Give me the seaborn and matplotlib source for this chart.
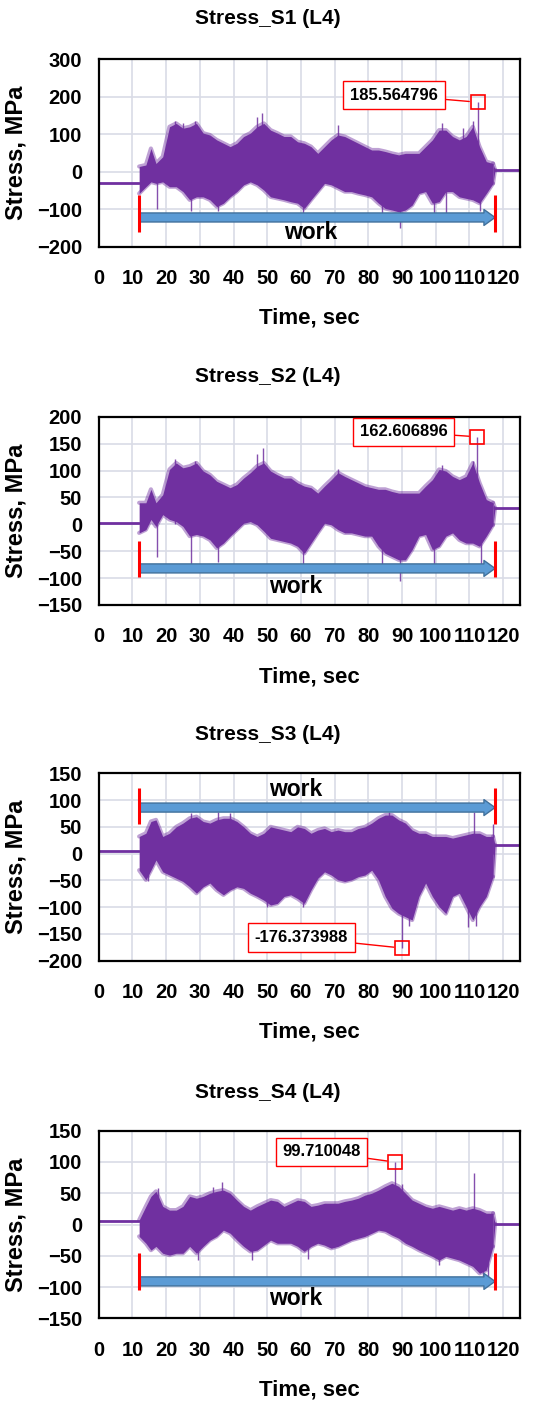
import numpy as np
import matplotlib.pyplot as plt
import seaborn as sns

# time grid for the working part (sec)
t_work = [12, 14, 15.5, 17, 19, 21, 23, 25, 27, 29, 31, 33, 35, 37, 39, 41, 43, 45, 47, 49,
          51, 53, 55, 57, 59, 61, 63, 65, 67, 69, 71, 73, 75, 77, 79, 81, 83, 85, 87, 89,
          91, 93, 95, 97, 99, 101, 103, 105, 107, 109, 111, 113, 115, 117]
t_start, t_end, t_max = 12, 117.6, 125

# --- S1 ---
s1_upper = [14, 18, 62, 22, 40, 120, 129, 116, 120, 129, 103, 98, 85, 76, 67, 76, 94, 103, 120, 129,
            111, 103, 94, 94, 80, 76, 67, 49, 67, 85, 98, 94, 85, 76, 67, 58, 58, 54, 49, 45,
            49, 49, 49, 67, 85, 111, 111, 94, 85, 94, 120, 67, 27, 22]
s1_lower = [-58, -40, -27, -31, -27, -40, -40, -53, -75, -67, -67, -75, -93, -84, -67, -53, -35, -27, -35, -49,
            -67, -71, -75, -80, -84, -98, -75, -53, -31, -35, -44, -53, -53, -58, -62, -67, -84, -98, -102, -107,
            -102, -89, -58, -53, -84, -80, -53, -53, -67, -71, -75, -84, -58, -31]
s1_base = (-30, 5)
s1_spike_t = [17.2, 22.5, 25, 27.5, 28.5, 35.5, 47, 48.5, 60.5, 71, 84, 89.5, 99.5, 102, 103, 108, 111, 112.4, 113]
s1_spike_v = [-100, 135, 130, -105, 135, -105, 145, 158, -110, 125, -110, -150, -110, 130, -110, 118, 135, 185.564796, -105]

# --- S2 ---
s2_upper = [40, 40, 65, 40, 55, 102, 114, 105, 108, 114, 99, 92, 80, 74, 68, 74, 86, 96, 108, 114,
            99, 92, 86, 86, 77, 71, 68, 58, 71, 83, 96, 89, 83, 77, 71, 68, 65, 65, 61, 58,
            58, 58, 58, 71, 83, 102, 99, 89, 83, 89, 114, 77, 46, 40]
s2_lower = [-16, -10, 9, -4, 18, 9, 5, -4, -22, -19, -22, -29, -44, -35, -22, -10, 2, 5, -1, -13,
            -26, -29, -32, -35, -41, -54, -35, -16, 2, -1, -10, -16, -16, -19, -22, -22, -41, -54, -60, -66,
            -66, -47, -22, -19, -47, -41, -22, -16, -29, -35, -35, -41, -22, -1]
s2_base = (2, 30)
s2_spike_t = [17.2, 22.5, 27.5, 28.5, 35.5, 47, 48.8, 60.5, 71, 84, 89.5, 99.5, 102, 111, 112.3, 113.5]
s2_spike_v = [-60, 122, -75, 118, -70, 130, 142, -75, 102, -75, -105, -75, 110, 117, 162.606896, -80]

# --- S3 ---
s3_upper = [32, 38, 60, 63, 32, 38, 50, 57, 66, 69, 60, 57, 63, 66, 66, 60, 50, 38, 32, 38,
            50, 47, 44, 41, 50, 47, 38, 44, 47, 41, 44, 41, 41, 47, 50, 57, 66, 72, 72, 63,
            57, 44, 38, 38, 32, 32, 32, 29, 32, 35, 38, 38, 32, 32]
s3_lower = [-31, -49, -31, -12, -34, -40, -46, -52, -62, -74, -62, -55, -68, -77, -68, -62, -65, -74, -80, -87,
            -96, -93, -80, -77, -84, -93, -68, -46, -34, -40, -49, -52, -49, -43, -40, -31, -49, -80, -102, -112,
            -118, -124, -80, -55, -80, -99, -112, -80, -74, -99, -124, -99, -80, -43]
s3_base = (4, 16)
s3_spike_t = [14.5, 27.5, 35.5, 39, 50, 60.5, 86, 90, 92, 109.5, 111.5, 112, 117]
s3_spike_v = [-52, 75, 78, 75, -100, -100, 78, -176.373988, -135, -137, 78, -135, 55]

# --- S4 ---
s4_upper = [7, 29, 45, 53, 29, 23, 23, 29, 45, 42, 45, 50, 53, 55, 50, 39, 29, 23, 29, 34,
            39, 37, 29, 34, 39, 37, 29, 31, 34, 34, 34, 37, 39, 42, 47, 50, 55, 61, 66, 61,
            50, 39, 34, 29, 26, 29, 26, 23, 26, 23, 26, 23, 18, 18]
s4_lower = [-19, -30, -41, -35, -46, -49, -46, -46, -35, -46, -35, -25, -19, -9, -14, -25, -35, -43, -41, -33,
            -25, -30, -30, -30, -35, -43, -35, -30, -33, -38, -35, -30, -25, -22, -19, -14, -9, -11, -17, -22,
            -30, -35, -41, -46, -51, -57, -51, -54, -57, -62, -67, -78, -73, -35]
s4_base = (5, 1)
s4_spike_t = [17.5, 29.5, 34, 36.5, 45.5, 62, 88, 90, 101, 111.5, 114, 115.5]
s4_spike_v = [58, -57, 60, 68, -57, -55, 99.710048, 65, -65, 82, -90, -95]

titles = ['Stress_S1 (L4)', 'Stress_S2 (L4)', 'Stress_S3 (L4)', 'Stress_S4 (L4)']
peak_t = [112.4, 112.3, 90.0, 88.0]
peak_v = [185.564796, 162.606896, -176.373988, 99.710048]
peak_labels = ['185.564796', '162.606896', '-176.373988', '99.710048']
box_xy = [(87.6, 204.7), (90.5, 172), (60.1, -156.7), (66.1, 116)]
ylims = [(-200, 300), (-150, 200), (-200, 150), (-150, 150)]
ysteps = [100, 50, 50, 50]
arrow_y = [-122, -82, 86, -91]
red_span = [(-62, -160), (-31, -98), (122, 55), (-46, -105)]
work_xy = [(62.8, -163), (58.3, -116), (58.3, 119), (58.3, -118)]

panels = [
    (s1_upper, s1_lower, s1_base, s1_spike_t, s1_spike_v),
    (s2_upper, s2_lower, s2_base, s2_spike_t, s2_spike_v),
    (s3_upper, s3_lower, s3_base, s3_spike_t, s3_spike_v),
    (s4_upper, s4_lower, s4_base, s4_spike_t, s4_spike_v),
]

sns.set_theme(style='white')
plt.rcParams['font.family'] = ['Liberation Sans', 'DejaVu Sans']
plt.rcParams['font.weight'] = 'bold'

purple = '#7030A0'
W, H = 549, 1401
fig = plt.figure(figsize=(W / 100, H / 100), dpi=100)

# axes boxes in pixels (top, bottom) measured from the top of the image
ax_px = [(59.3, 246.7), (416.7, 605.0), (773.3, 960.7), (1130.7, 1318.3)]
title_px = [19, 377, 735, 1092]
left_px, right_px = 98.7, 520

for i, (up, lo, base, sp_t, sp_v) in enumerate(panels):
    top, bot = ax_px[i]
    hpx = bot - top
    ax = fig.add_axes([left_px / W, 1 - bot / H, (right_px - left_px) / W, hpx / H])

    # flat parts before and after the work
    sns.lineplot(x=[0, t_start], y=[base[0], base[0]], ax=ax, color=purple, lw=2)
    sns.lineplot(x=[t_end, t_max], y=[base[1], base[1]], ax=ax, color=purple, lw=2)

    # dense signal drawn as its envelope
    ax.fill_between(t_work, lo, up, color=purple, lw=0)
    sns.lineplot(x=t_work, y=up, ax=ax, color=purple, lw=3, alpha=0.45)
    sns.lineplot(x=t_work, y=lo, ax=ax, color=purple, lw=3, alpha=0.45)
    ax.fill_between([t_work[-1], t_end], [lo[-1], base[1]], [up[-1], base[1]], color=purple, lw=0)
    ax.plot([t_work[-1], t_end], [up[-1], base[1]], color=purple, lw=3, alpha=0.45)
    ax.plot([t_work[-1], t_end], [lo[-1], base[1]], color=purple, lw=3, alpha=0.45)
    ax.vlines(sp_t, 0, sp_v, color=purple, lw=1, alpha=0.85)

    # work arrow and red markers
    ax.annotate('', xy=(t_end, arrow_y[i]), xytext=(t_start, arrow_y[i]),
                arrowprops=dict(arrowstyle='simple,head_length=0.8,head_width=1.15,tail_width=0.65',
                                fc='#5B9BD5', ec='#41719C', lw=1, shrinkA=0, shrinkB=0,
                                mutation_scale=10))
    ax.vlines([t_start, t_end], red_span[i][1], red_span[i][0], color='red', lw=2.2, zorder=5)
    ax.text(work_xy[i][0], work_xy[i][1], 'work', ha='center', va='center',
            fontsize=16.5, fontweight='bold', color='black')

    # peak callout
    ax.plot(peak_t[i], peak_v[i], marker='s', ms=10, mfc='none', mec='red', mew=1.2, zorder=6)
    ax.annotate(peak_labels[i], xy=(peak_t[i], peak_v[i]), xytext=box_xy[i],
                ha='center', va='center', fontsize=12, fontweight='bold', color='black',
                bbox=dict(boxstyle='square,pad=0.4', fc='white', ec='red', lw=1),
                arrowprops=dict(arrowstyle='-', color='red', lw=1, shrinkA=0, shrinkB=6),
                zorder=7)

    ax.set_xlim(0, t_max)
    ax.set_ylim(*ylims[i])
    ax.set_xticks(np.arange(0, 121, 10))
    ax.set_yticks(np.arange(ylims[i][0], ylims[i][1] + 1, ysteps[i]))
    ax.grid(True, color='#D9DCE6', lw=1.2)
    ax.set_axisbelow(True)
    for s in ax.spines.values():
        s.set_color('black')
        s.set_linewidth(1.6)
    ax.tick_params(axis='both', length=0, labelsize=14.5, colors='black')
    ax.tick_params(axis='y', pad=12)
    ax.tick_params(axis='x', pad=16)
    for lab in ax.get_xticklabels() + ax.get_yticklabels():
        lab.set_fontweight('bold')

    ax.set_xlabel('Time, sec', fontsize=16, fontweight='bold', color='black')
    ax.set_ylabel('Stress, MPa', fontsize=17, fontweight='bold', color='black')
    ax.xaxis.set_label_coords(0.5, -61 / hpx)
    ax.yaxis.set_label_coords((28 - left_px) / (right_px - left_px), 0.5)

    fig.text(268 / W, 1 - title_px[i] / H, titles[i], ha='center', va='center',
             fontsize=15, fontweight='bold', color='black')

fig.savefig('out.png', dpi=100, facecolor='white')
